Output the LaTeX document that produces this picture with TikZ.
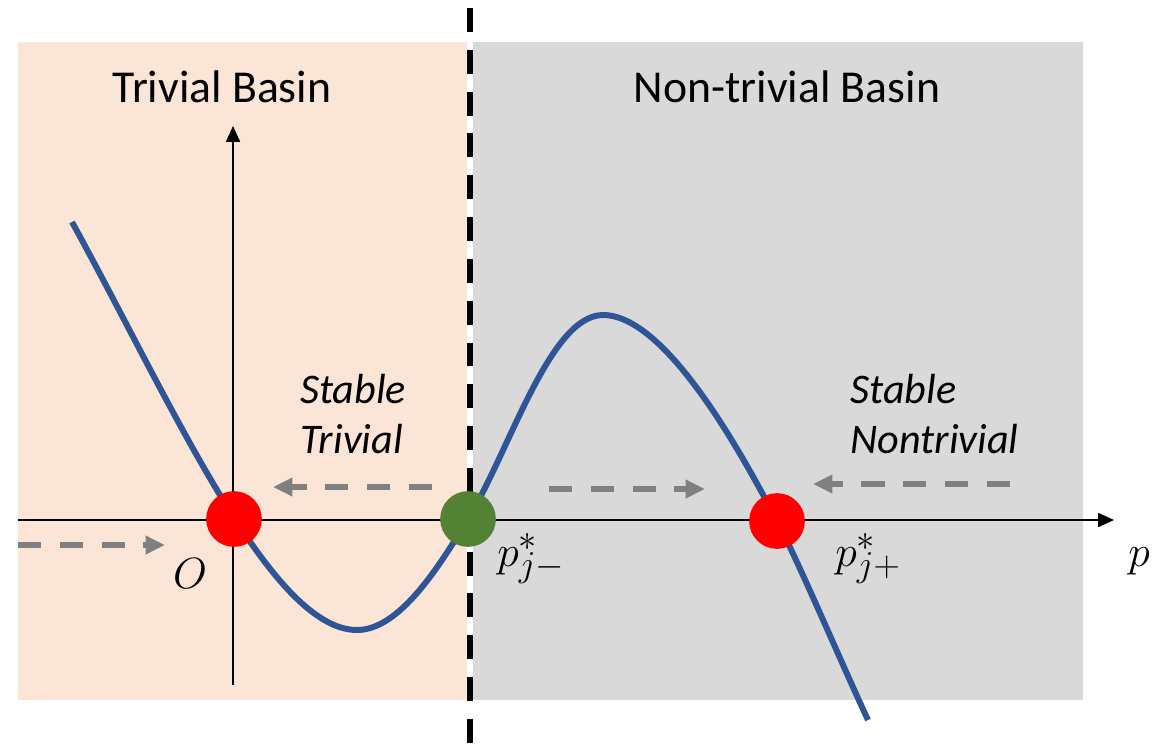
\documentclass[tikz,border=0pt]{standalone}
\usepackage{fontspec}
\setmainfont{Carlito}
\usetikzlibrary{arrows.meta, positioning}

\definecolor{peach}{HTML}{FBE5D6}
\definecolor{basingray}{HTML}{D9D9D9}
\definecolor{curveblue}{HTML}{2F5597}
\definecolor{stablegreen}{HTML}{548235}
\definecolor{flowgray}{HTML}{808080}

\tikzset{
  fixpt/.style={circle, minimum size=31.7pt, inner sep=0pt},
  flow/.style={draw=flowgray, line width=3.4pt, dash pattern=on 13.2pt off 10.6pt,
    -{Triangle[length=11pt,width=10pt]}},
  axis/.style={line width=0.7pt, -{Triangle[length=9pt,width=8pt]}},
  basinlabel/.style={font=\fontsize{26}{31}\selectfont, inner sep=0pt},
  flowlabel/.style={font=\fontsize{24}{28.5}\selectfont\itshape, align=left, anchor=west, inner sep=0pt},
  mathlabel/.style={font=\fontsize{32}{38}\selectfont, inner sep=0pt},
}

\begin{document}
\begin{tikzpicture}[x=0.02cm, y=-0.02cm]
    \useasboundingbox (0,0) rectangle (1172,748);

    % the two basins
    \fill[peach] (18,42) rectangle (467,700);
    \fill[basingray] (473,42) rectangle (1083,700);
    \node[basinlabel] (trivlab) at (222,87) {Trivial Basin};
    \node[basinlabel] (nontrivlab) at (787,87) {Non-trivial Basin};

    % axes
    \coordinate (xstart) at (18,520);
    \coordinate (xend) at (1114,520);
    \coordinate (ystart) at (233,685);
    \coordinate (yend) at (233,126);
    \draw[axis] (xstart) -- (xend);
    \draw[axis] (ystart) -- (yend);

    % separatrix
    \coordinate (septop) at (470,8);
    \coordinate (sepbot) at (470,748);
    \draw[line width=3.3pt, dash pattern=on 13.6pt off 10.2pt] (septop) -- (sepbot);

    % the cubic-like curve
    \draw[curveblue, line width=3.4pt]
        (72,222) .. controls (170,400) and (270,630) .. (357,630)
                 .. controls (400,630) and (440,565) .. (468,519)
                 .. controls (510,450) and (550,315) .. (603,315)
                 .. controls (665,315) and (740,450) .. (777,521)
                 .. controls (800,565) and (840,660) .. (868,720);

    % fixed points
    \node[fixpt, fill=red] (zero) at (234,519) {};
    \node[fixpt, fill=stablegreen] (pminus) at (468,519) {};
    \node[fixpt, fill=red] (pplus) at (777,521) {};

    % flow directions
    \coordinate (fa1) at (432,487);
    \coordinate (fa2) at (273,487);
    \coordinate (fb1) at (549,489);
    \coordinate (fb2) at (705,489);
    \coordinate (fc1) at (1010,484);
    \coordinate (fc2) at (813,484);
    \coordinate (fd1) at (18,545);
    \coordinate (fd2) at (165,545);
    \draw[flow] (fa1) -- (fa2);
    \draw[flow] (fb1) -- (fb2);
    \draw[flow] (fc1) -- (fc2);
    \draw[flow] (fd1) -- (fd2);

    % labels
    \node[flowlabel] (stabtriv) at (300,414) {Stable\\Trivial};
    \node[flowlabel] (stabnon) at (850,414) {Stable\\Nontrivial};
    \node[mathlabel, anchor=base] (olab) at (190,588) {$O$};
    \node[mathlabel, anchor=base west] (pmlab) at (497,566) {$p^*_{j-}$};
    \node[mathlabel, anchor=base west] (pplab) at (835,566) {$p^*_{j+}$};
    \node[mathlabel, anchor=base west] (plab) at (1128,566) {$p$};
\end{tikzpicture}
\end{document}
